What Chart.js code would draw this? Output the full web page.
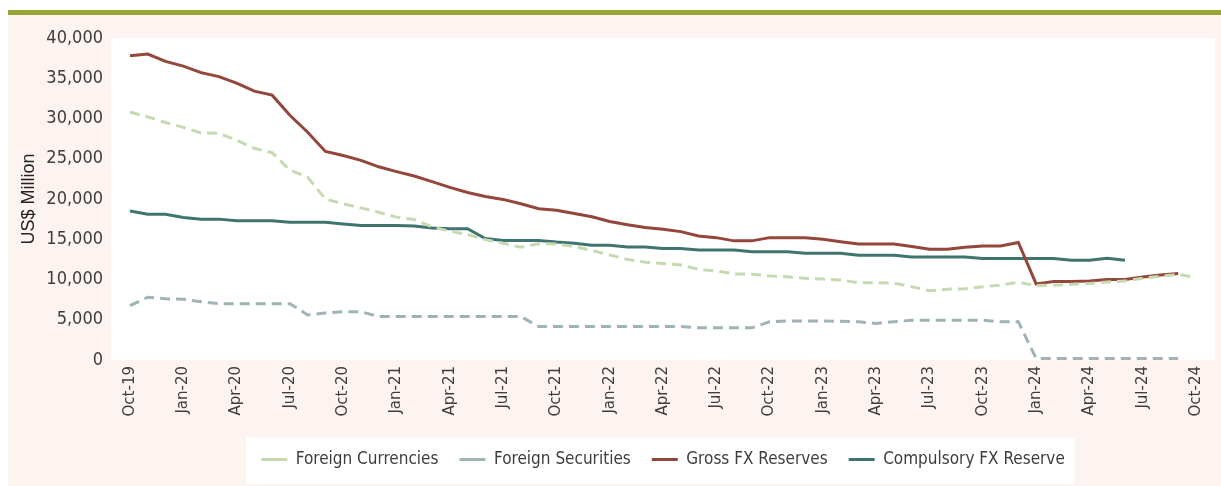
<!DOCTYPE html>
<html>
<head>
<meta charset="utf-8">
<script src="https://cdn.jsdelivr.net/npm/chart.js@4.4.1/dist/chart.umd.min.js"></script>
<style>
  html, body { margin: 0; padding: 0; background: #ffffff; }
  canvas { display: block; }
</style>
</head>
<body>
<canvas id="fxChart" width="1221" height="486"></canvas>
<script>
// monthly categories, Oct-19 .. Oct-24
const months = [
  'Oct-19','Nov-19','Dec-19',
  'Jan-20','Feb-20','Mar-20','Apr-20','May-20','Jun-20','Jul-20','Aug-20','Sep-20','Oct-20','Nov-20','Dec-20',
  'Jan-21','Feb-21','Mar-21','Apr-21','May-21','Jun-21','Jul-21','Aug-21','Sep-21','Oct-21','Nov-21','Dec-21',
  'Jan-22','Feb-22','Mar-22','Apr-22','May-22','Jun-22','Jul-22','Aug-22','Sep-22','Oct-22','Nov-22','Dec-22',
  'Jan-23','Feb-23','Mar-23','Apr-23','May-23','Jun-23','Jul-23','Aug-23','Sep-23','Oct-23','Nov-23','Dec-23',
  'Jan-24','Feb-24','Mar-24','Apr-24','May-24','Jun-24','Jul-24','Aug-24','Sep-24','Oct-24'
];

const tickLabels = ['Oct-19','Jan-20','Apr-20','Jul-20','Oct-20','Jan-21','Apr-21','Jul-21','Oct-21',
  'Jan-22','Apr-22','Jul-22','Oct-22','Jan-23','Apr-23','Jul-23','Oct-23','Jan-24','Apr-24','Jul-24','Oct-24'];

const yTicks = [0, 5000, 10000, 15000, 20000, 25000, 30000, 35000, 40000];

// US$ million
const foreignCurrencies = [
  30800, 30200, 29500, 28900, 28200, 28150, 27300, 26300, 25750, 23600, 22700, 20000, 19400, 18900, 18350,
  17750, 17450, 16550, 16000, 15600, 14950, 14500, 14000, 14450, 14400, 14100, 13600,
  13050, 12500, 12150, 12000, 11800, 11250, 11050, 10700, 10650, 10450, 10350, 10150,
  10050, 9950, 9600, 9600, 9550, 9100, 8600, 8800, 8850, 9100, 9300, 9650,
  9250, 9300, 9400, 9500, 9700, 9800, 10150, 10400, 10650, 10250
];

const foreignSecurities = [
  6750, 7800, 7600, 7550, 7250, 7000, 7000, 7000, 7000, 7000, 5600, 5850, 6000, 6000, 5400,
  5400, 5400, 5400, 5400, 5400, 5400, 5400, 5400, 4150, 4150, 4150, 4150,
  4150, 4150, 4150, 4150, 4150, 4000, 4000, 4000, 4000, 4750, 4850, 4850,
  4850, 4800, 4750, 4550, 4750, 4950, 4950, 4950, 4950, 4950, 4750, 4750,
  200, 200, 200, 200, 200, 200, 200, 200, 200, null
];

const grossFxReserves = [
  37800, 38000, 37100, 36500, 35700, 35200, 34400, 33400, 32900, 30400, 28300, 25900, 25400, 24800, 24000,
  23400, 22850, 22150, 21450, 20800, 20300, 19950, 19400, 18800, 18600, 18200, 17800,
  17200, 16800, 16450, 16250, 15950, 15400, 15200, 14800, 14800, 15200, 15200, 15200,
  15000, 14700, 14400, 14400, 14400, 14100, 13750, 13750, 14000, 14150, 14150, 14600,
  9450, 9750, 9750, 9800, 10000, 10000, 10300, 10550, 10750, null
];

const compulsoryFxReserve = [
  18500, 18100, 18100, 17700, 17500, 17500, 17300, 17300, 17300, 17100, 17100, 17100, 16900, 16700, 16700,
  16700, 16650, 16400, 16300, 16300, 15100, 14850, 14850, 14850, 14650, 14500, 14250,
  14250, 14050, 14050, 13850, 13850, 13650, 13650, 13650, 13450, 13450, 13450, 13250,
  13250, 13250, 13000, 13000, 13000, 12800, 12800, 12800, 12800, 12600, 12600, 12600,
  12600, 12600, 12400, 12400, 12650, 12400, null, null, null, null
];

const narrow = "'Liberation Sans Narrow', 'DejaVu Sans Condensed', 'Liberation Sans', sans-serif";
const textColor = '#3d3d3d';

// page frame: olive rule, pink panel, white plot and legend boxes
const backdrop = {
  id: 'backdrop',
  beforeDraw(chart) {
    const {ctx, chartArea: a, width, height} = chart;
    ctx.save();
    ctx.fillStyle = '#ffffff';
    ctx.fillRect(0, 0, width, height);
    ctx.fillStyle = '#97a537';
    ctx.fillRect(8, 10, width - 8, 5);
    ctx.fillStyle = '#fdf4f2';
    ctx.fillRect(8, 15, width - 8, height - 15);
    ctx.fillStyle = '#ffffff';
    ctx.fillRect(a.left - 19, a.top, a.right - a.left + 38, a.bottom - a.top);
    const hb = chart.legend && chart.legend.legendHitBoxes;
    if (hb && hb.length) {
      const first = hb[0], last = hb[hb.length - 1];
      const cy = first.top + first.height / 2;
      ctx.fillRect(first.left - 15, cy - 22, last.left + last.width + 10 - (first.left - 15), 46);
    }
    ctx.restore();
  }
};

const line = (label, data, color, dashed) => ({
  label: label,
  data: data,
  borderColor: color,
  backgroundColor: color,
  borderWidth: 3,
  borderDash: dashed ? [10, 6] : [],
  pointRadius: 0,
  tension: 0,
  fill: false
});

new Chart(document.getElementById('fxChart'), {
  type: 'line',
  data: {
    labels: months,
    datasets: [
      line('Foreign Currencies', foreignCurrencies, '#c6dab0', true),
      line('Foreign Securities', foreignSecurities, '#9fb4b7', true),
      line('Gross FX Reserves', grossFxReserves, '#94463a', false),
      line('Compulsory FX Reserve', compulsoryFxReserve, '#3f7470', false)
    ]
  },
  options: {
    responsive: false,
    animation: false,
    locale: 'en-US',
    layout: { padding: { left: 0, right: 25, top: 38, bottom: 8 } },
    plugins: {
      legend: {
        position: 'bottom',
        fullSize: false,
        labels: {
          usePointStyle: true,
          pointStyle: 'line',
          pointStyleWidth: 26,
          padding: 21,
          color: textColor,
          font: { family: narrow, size: 17 },
          generateLabels(chart) {
            const items = Chart.defaults.plugins.legend.labels.generateLabels(chart);
            // shorter dashes in the legend samples
            items.forEach(it => { if (it.lineDash && it.lineDash.length) it.lineDash = [5, 3]; });
            return items;
          }
        }
      },
      tooltip: { enabled: false }
    },
    scales: {
      x: {
        grid: { display: false, drawTicks: false },
        border: { display: false },
        afterFit(scale) { scale.height = 70; },
        ticks: {
          autoSkip: false,
          minRotation: 90,
          maxRotation: 90,
          padding: 6,
          color: textColor,
          font: { family: "'DejaVu Sans', sans-serif", size: 15 },
          callback(value) {
            const lbl = this.getLabelForValue(value);
            return tickLabels.includes(lbl) ? lbl : '';
          }
        }
      },
      y: {
        min: 0,
        max: 40000,
        grid: { display: false, drawTicks: false },
        border: { display: false },
        afterFit(scale) { scale.width = 130; },
        afterBuildTicks(scale) { scale.ticks = yTicks.map(v => ({ value: v })); },
        ticks: {
          padding: 27,
          color: textColor,
          font: { family: narrow, size: 18 }
        },
        title: {
          display: true,
          text: 'US$ Million',
          color: '#222222',
          padding: { top: 18 },
          font: { family: "'Liberation Sans', Arial, sans-serif", size: 18 }
        }
      }
    }
  },
  plugins: [backdrop]
});
</script>
</body>
</html>
